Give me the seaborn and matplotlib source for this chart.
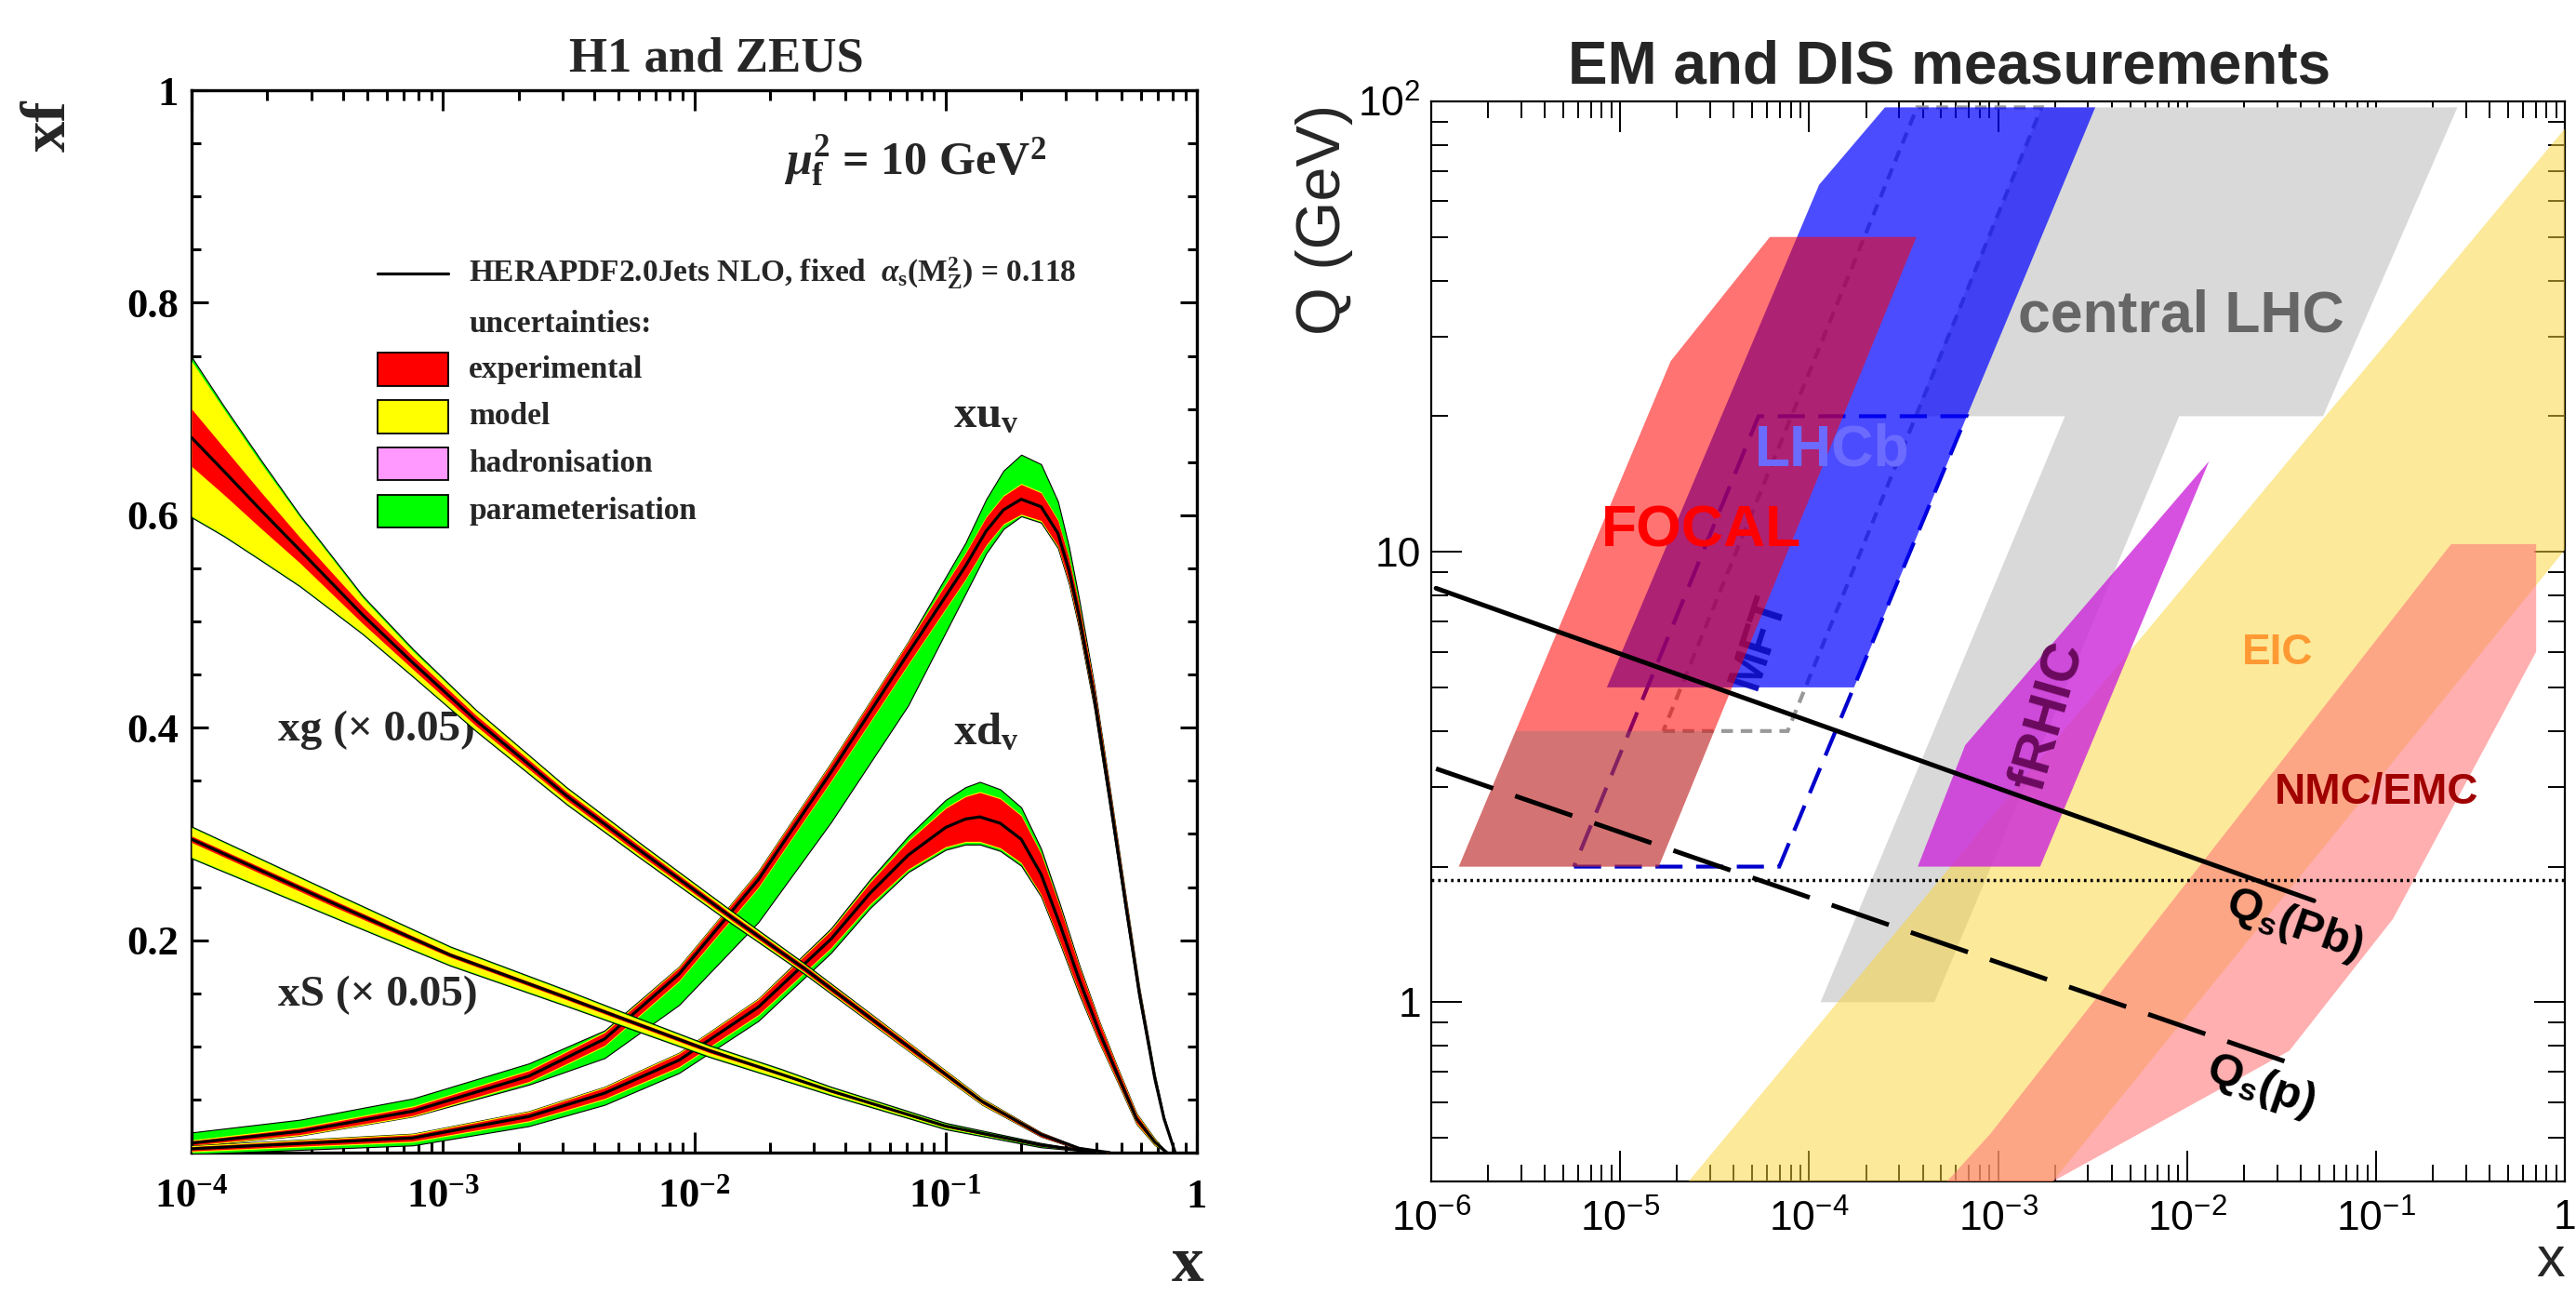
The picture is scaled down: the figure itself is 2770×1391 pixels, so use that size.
import numpy as np
import matplotlib
matplotlib.use("Agg")
import matplotlib.pyplot as plt
import matplotlib.ticker as mticker
from matplotlib.patches import Rectangle
import seaborn as sns

# ---------------- left panel: HERAPDF2.0Jets NLO, mu_f^2 = 10 GeV^2 ----------------
# xu_v : central value and cumulative uncertainty half-widths (exp, +model, total)
xuv_x = [1.0e-4, 2.7e-4, 7.6e-4, 2.2e-3, 4.4e-3, 8.7e-3, 1.8e-2, 3.5e-2, 7.1e-2, 0.12, 0.145,
         0.17, 0.20, 0.24, 0.28, 0.31, 0.34, 0.39, 0.45, 0.52, 0.59, 0.68, 0.74, 0.82]
xuv_c = [0.009, 0.020, 0.039, 0.072, 0.107, 0.168, 0.257, 0.358, 0.470, 0.552, 0.585,
         0.605, 0.615, 0.608, 0.583, 0.548, 0.505, 0.430, 0.335, 0.235, 0.150, 0.070, 0.032, 0.0]
xuv_exp = [0.002, 0.003, 0.004, 0.005, 0.006, 0.006, 0.007, 0.008, 0.010, 0.012, 0.013,
           0.013, 0.014, 0.013, 0.012, 0.011, 0.010, 0.009, 0.008, 0.007, 0.005, 0.003, 0.002, 0.0]
xuv_mod = [0.003, 0.004, 0.005, 0.006, 0.007, 0.007, 0.008, 0.009, 0.011, 0.013, 0.014,
           0.014, 0.015, 0.014, 0.013, 0.012, 0.011, 0.010, 0.009, 0.008, 0.006, 0.004, 0.002, 0.0]
xuv_tot_hi = [0.010, 0.011, 0.012, 0.012, 0.008, 0.007, 0.008, 0.009, 0.011, 0.022, 0.030,
              0.037, 0.042, 0.040, 0.030, 0.022, 0.016, 0.011, 0.009, 0.008, 0.006, 0.004, 0.002, 0.0]
xuv_tot_lo = [0.003, 0.004, 0.005, 0.008, 0.018, 0.029, 0.040, 0.047, 0.049, 0.026, 0.021,
              0.018, 0.016, 0.015, 0.014, 0.013, 0.012, 0.011, 0.010, 0.008, 0.006, 0.004, 0.002, 0.0]

# xd_v
xdv_x = [1.0e-4, 7.6e-4, 2.2e-3, 4.4e-3, 8.7e-3, 1.8e-2, 3.5e-2, 5.0e-2, 7.1e-2, 0.10,
         0.12, 0.137, 0.165, 0.20, 0.24, 0.285, 0.34, 0.41, 0.48, 0.575, 0.68, 0.76]
xdv_c = [0.0036, 0.0138, 0.034, 0.056, 0.087, 0.137, 0.201, 0.244, 0.280, 0.306,
         0.314, 0.316, 0.310, 0.295, 0.262, 0.215, 0.163, 0.113, 0.075, 0.032, 0.010, 0.0]
xdv_exp = [0.002, 0.003, 0.004, 0.005, 0.006, 0.007, 0.008, 0.010, 0.013, 0.018,
           0.021, 0.023, 0.023, 0.022, 0.019, 0.016, 0.012, 0.009, 0.006, 0.004, 0.002, 0.0]
xdv_mod = [0.003, 0.004, 0.005, 0.006, 0.007, 0.008, 0.009, 0.011, 0.014, 0.019,
           0.022, 0.024, 0.024, 0.023, 0.020, 0.017, 0.013, 0.010, 0.007, 0.005, 0.003, 0.0]
xdv_tot_hi = [0.003, 0.004, 0.005, 0.006, 0.007, 0.008, 0.010, 0.013, 0.018, 0.026,
              0.030, 0.033, 0.032, 0.030, 0.024, 0.019, 0.014, 0.010, 0.007, 0.005, 0.003, 0.0]
xdv_tot_lo = [0.005, 0.007, 0.009, 0.011, 0.012, 0.013, 0.013, 0.014, 0.016, 0.021,
              0.024, 0.026, 0.026, 0.025, 0.021, 0.018, 0.014, 0.010, 0.007, 0.005, 0.003, 0.0]

# xg (x 0.05)
xg_x = [1.0e-4, 1.35e-4, 1.9e-4, 2.7e-4, 4.8e-4, 7.6e-4, 1.35e-3, 3.1e-3, 6.2e-3, 1.4e-2,
        2.75e-2, 7.1e-2, 0.14, 0.24, 0.34, 0.45]
xg_c = [0.673, 0.641, 0.604, 0.567, 0.506, 0.461, 0.407, 0.336, 0.283, 0.222,
        0.173, 0.100, 0.048, 0.017, 0.004, 0.0]
xg_exp = [0.027, 0.022, 0.017, 0.012, 0.008, 0.006, 0.005, 0.004, 0.004, 0.003,
          0.003, 0.003, 0.002, 0.002, 0.001, 0.0]
xg_mod_hi = [0.072, 0.058, 0.044, 0.031, 0.016, 0.011, 0.009, 0.007, 0.006, 0.005,
             0.004, 0.004, 0.003, 0.002, 0.001, 0.0]
xg_mod_lo = [0.074, 0.060, 0.046, 0.033, 0.017, 0.012, 0.009, 0.007, 0.006, 0.005,
             0.004, 0.004, 0.003, 0.002, 0.001, 0.0]
xg_tot_hi = [0.076, 0.061, 0.047, 0.033, 0.018, 0.013, 0.010, 0.008, 0.007, 0.006,
             0.005, 0.004, 0.003, 0.002, 0.001, 0.0]
xg_tot_lo = [0.075, 0.061, 0.047, 0.034, 0.018, 0.013, 0.010, 0.008, 0.007, 0.006,
             0.005, 0.004, 0.003, 0.002, 0.001, 0.0]

# xS (x 0.05)
xs_x = [1.0e-4, 3.8e-4, 1.07e-3, 3.1e-3, 5.5e-3, 1.15e-2, 2.2e-2, 3.5e-2, 0.10, 0.24, 0.41]
xs_c = [0.295, 0.233, 0.186, 0.146, 0.124, 0.096, 0.074, 0.058, 0.025, 0.007, 0.0]
xs_exp = [0.003, 0.003, 0.002, 0.002, 0.002, 0.002, 0.001, 0.001, 0.001, 0.001, 0.0]
xs_mod_hi = [0.011, 0.009, 0.007, 0.006, 0.005, 0.004, 0.004, 0.003, 0.002, 0.001, 0.0]
xs_mod_lo = [0.017, 0.012, 0.009, 0.007, 0.006, 0.005, 0.004, 0.003, 0.002, 0.001, 0.0]
xs_tot_hi = [0.012, 0.010, 0.008, 0.007, 0.006, 0.005, 0.005, 0.004, 0.003, 0.002, 0.0]
xs_tot_lo = [0.018, 0.013, 0.010, 0.008, 0.007, 0.006, 0.005, 0.004, 0.003, 0.002, 0.0]

left_xticks = [1e-4, 1e-3, 1e-2, 1e-1, 1]
left_xlabels = [r"$\mathbf{10^{-4}}$", r"$\mathbf{10^{-3}}$", r"$\mathbf{10^{-2}}$",
                r"$\mathbf{10^{-1}}$", "1"]
left_yticks = [0, 0.2, 0.4, 0.6, 0.8, 1.0]
left_ylabels = ["", "0.2", "0.4", "0.6", "0.8", "1"]
legend_labels = ["experimental", "model", "hadronisation", "parameterisation"]
legend_colors = ["#ff0000", "#ffff00", "#ff99ff", "#00ff00"]

# ---------------- right panel: (x, Q) coverage of EM and DIS measurements ----------------
lhc_x = [1.7e-3, 0.27, 0.0525, 9.1e-3, 4.6e-4, 1.15e-4, 2.26e-3, 3.6e-4]
lhc_q = [97, 97, 20, 20, 1, 1, 20, 20]
alice_x = [1.69e-5, 7.7e-5, 1.7e-3, 3.73e-4]        # grey dotted outline
alice_q = [4, 4, 97, 97]
eic_x = [2.3e-5, 1.95e-3, 1.0, 1.0]
eic_q = [0.4, 0.4, 10.1, 87]
frhic_x = [3.76e-4, 1.67e-3, 1.31e-2, 6.7e-4]
frhic_q = [2.0, 2.0, 15.9, 3.72]
nmc_x = [5.37e-4, 9.1e-4, 0.25, 0.705, 0.705, 0.123, 0.0348, 1.95e-3]
nmc_q = [0.4, 0.51, 10.4, 10.4, 6.0, 1.53, 0.78, 0.4]
mft_x = [5.7e-6, 6.95e-5, 6.8e-4, 5.4e-5]            # blue dashed outline
mft_q = [2, 2, 20, 20]
lhcb_x = [8.5e-6, 1.73e-4, 3.27e-3, 2.52e-4, 1.13e-4]
lhcb_q = [5.0, 5.0, 97, 97, 65.3]
focal_x = [1.4e-6, 1.6e-5, 3.7e-4, 6.2e-5, 1.85e-5]
focal_q = [2, 2, 50, 50, 26.5]
focal_low_x = [1.4e-6, 1.6e-5, 3.14e-5, 2.8e-6]
focal_low_q = [2, 2, 4, 4]
qs_pb_x = [1.06e-6, 0.047]
qs_pb_q = [8.3, 1.68]
qs_p_x = [1.06e-6, 0.0366]
qs_p_q = [3.3, 0.728]
qcut_x = [1e-6, 1.0]
qcut_q = [1.87, 1.87]

right_xticks = [1e-6, 1e-5, 1e-4, 1e-3, 1e-2, 1e-1, 1]
right_xlabels = [r"$\mathsf{10^{-6}}$", r"$\mathsf{10^{-5}}$", r"$\mathsf{10^{-4}}$",
                 r"$\mathsf{10^{-3}}$", r"$\mathsf{10^{-2}}$", r"$\mathsf{10^{-1}}$", "1"]
right_yticks = [1, 10, 100]
right_ylabels = ["1", "10", r"$\mathsf{10^{2}}$"]

sns.set_theme(style="ticks", rc={"axes.edgecolor": "black", "xtick.color": "black",
                                 "ytick.color": "black", "axes.facecolor": "white"})
plt.rcParams["font.family"] = ["Liberation Serif", "DejaVu Serif"]
plt.rcParams["mathtext.fontset"] = "custom"
plt.rcParams["mathtext.rm"] = "Liberation Serif:bold"
plt.rcParams["mathtext.bf"] = "Liberation Serif:bold"
plt.rcParams["mathtext.it"] = "Liberation Serif:bold:italic"
plt.rcParams["mathtext.sf"] = "Liberation Sans"
plt.rcParams["mathtext.tt"] = "Liberation Sans:bold"

fig = plt.figure(figsize=(27.7, 13.91), dpi=100)
axl = fig.add_axes([0.07437, 0.10927, 0.39025, 0.82099])
axr = fig.add_axes([0.5556, 0.08699, 0.44007, 0.83465])

# ---------- left ----------
axl.set_xscale("log")
axl.set_xlim(1e-4, 1)
axl.set_ylim(0, 1)


def draw_pdf(ax, x, c, exp, mod_hi, mod_lo, tot_hi, tot_lo, z):
    x = np.asarray(x)
    c = np.asarray(c)
    ax.fill_between(x, c - np.asarray(tot_lo), c + np.asarray(tot_hi), color="#00ff00",
                    ec="black", lw=0.8, zorder=z)
    ax.fill_between(x, c - np.asarray(mod_lo), c + np.asarray(mod_hi), color="#ffff00",
                    lw=0, zorder=z + 0.1)
    ax.fill_between(x, c - np.asarray(exp), c + np.asarray(exp), color="#ff0000",
                    lw=0, zorder=z + 0.2)
    sns.lineplot(x=x, y=c, ax=ax, color="black", lw=2.3, zorder=z + 0.3,
                 sort=False, estimator=None)


draw_pdf(axl, xuv_x, xuv_c, xuv_exp, xuv_mod, xuv_mod, xuv_tot_hi, xuv_tot_lo, 2)
draw_pdf(axl, xdv_x, xdv_c, xdv_exp, xdv_mod, xdv_mod, xdv_tot_hi, xdv_tot_lo, 3)
draw_pdf(axl, xg_x, xg_c, xg_exp, xg_mod_hi, xg_mod_lo, xg_tot_hi, xg_tot_lo, 4)
draw_pdf(axl, xs_x, xs_c, xs_exp, xs_mod_hi, xs_mod_lo, xs_tot_hi, xs_tot_lo, 5)

axl.set_xticks(left_xticks)
axl.set_xticklabels(left_xlabels, fontsize=32, fontweight="bold")
axl.xaxis.set_minor_locator(mticker.LogLocator(base=10, subs=np.arange(2, 10), numticks=50))
axl.xaxis.set_minor_formatter(mticker.NullFormatter())
axl.set_yticks(left_yticks)
axl.set_yticklabels(left_ylabels, fontsize=32, fontweight="bold")
axl.yaxis.set_minor_locator(mticker.MultipleLocator(0.05))
axl.tick_params(which="both", direction="in", top=True, right=True, width=2.2)
axl.tick_params(axis="x", which="major", length=16, pad=20)
axl.tick_params(axis="x", which="minor", length=8)
axl.tick_params(axis="y", which="major", length=13, pad=10)
axl.tick_params(axis="y", which="minor", length=7)
for sp in axl.spines.values():
    sp.set_linewidth(2.4)
axl.set_xlabel("")
axl.set_ylabel("")

# legend block
axl.plot([0.185, 0.255], [0.8275, 0.8275], transform=axl.transAxes, color="black", lw=2.3)
axl.text(0.2757, 0.8275, r"HERAPDF2.0Jets NLO, fixed  $\alpha_{\mathrm{s}}(\mathrm{M}_{\mathrm{Z}}^{2})$ = 0.118",
         transform=axl.transAxes, fontsize=24, fontweight="bold", va="center")
axl.text(0.2757, 0.780, "uncertainties:", transform=axl.transAxes, fontsize=24,
         fontweight="bold", va="center")
for i, (lab, col) in enumerate(zip(legend_labels, legend_colors)):
    yc = 0.7373 - i * 0.0445
    axl.add_patch(Rectangle((0.185, yc - 0.0155), 0.0703, 0.031, transform=axl.transAxes,
                            fc=col, ec="black", lw=1.3, zorder=10))
    axl.text(0.2757, yc, lab, transform=axl.transAxes, fontsize=24, fontweight="bold",
             va="center")

axl.text(0.72, 0.920, r"$\mu_{\mathrm{f}}^{2}$ = 10 GeV$^{2}$", transform=axl.transAxes,
         fontsize=36, fontweight="bold", ha="center", va="baseline")
axl.text(0.790, 0.6935, r"xu$_{\mathrm{v}}$", transform=axl.transAxes, fontsize=35,
         fontweight="bold", ha="center", va="center")
axl.text(0.790, 0.395, r"xd$_{\mathrm{v}}$", transform=axl.transAxes, fontsize=35,
         fontweight="bold", ha="center", va="center")
axl.text(0.086, 0.3975, "xg (\u00d7 0.05)", transform=axl.transAxes, fontsize=34,
         fontweight="bold", ha="left", va="center")
axl.text(0.086, 0.148, "xS (\u00d7 0.05)", transform=axl.transAxes, fontsize=34,
         fontweight="bold", ha="left", va="center")

fig.text(0.278, 0.945, "H1 and ZEUS", ha="center", va="baseline", fontsize=38,
         fontweight="bold")
fig.text(0.0191, 0.923, "xf", rotation=90, ha="center", va="top", fontsize=48,
         fontweight="bold")
fig.text(0.4675, 0.010, "x", ha="right", va="baseline", fontsize=50, fontweight="bold")

# ---------- right ----------
axr.set_xscale("log")
axr.set_yscale("log")
axr.set_xlim(1e-6, 1)
axr.set_ylim(0.4, 100)

axr.fill(lhc_x, lhc_q, color="#d9d9d9", lw=0, zorder=1)
axr.fill(alice_x, alice_q, fill=False, ec="#999999", lw=3, ls=(0, (3, 2)), zorder=2)
axr.fill(eic_x, eic_q, color=(0.98, 0.83, 0.21), alpha=0.5, lw=0, zorder=3)
axr.fill(frhic_x, frhic_q, color=(0.8, 0.15, 0.85), alpha=0.8, lw=0, zorder=4)
axr.fill(nmc_x, nmc_q, color=(1.0, 0.48, 0.48), alpha=0.6, lw=0, zorder=5)
axr.fill(mft_x, mft_q, fill=False, ec="#0000cc", lw=3, ls=(0, (7, 3.5)), zorder=6)
axr.fill(lhcb_x, lhcb_q, color=(0, 0, 1), alpha=0.7, lw=0, zorder=7)
axr.text(5.4e-5, 6.3, "MFT", rotation=72, ha="center", va="center", fontsize=36,
         fontweight="bold", family="Liberation Sans", color="#1010c0", zorder=7.5)
axr.fill(focal_x, focal_q, color=(1, 0, 0), alpha=0.55, lw=0, zorder=8)
axr.fill(focal_low_x, focal_low_q, color=(0.45, 0.45, 0.45), alpha=0.3, lw=0, zorder=9)

sns.lineplot(x=qs_pb_x, y=qs_pb_q, ax=axr, color="black", lw=3.6, zorder=11,
             sort=False, estimator=None)
axr.plot(qs_p_x, qs_p_q, color="black", lw=3.6, ls=(0, (13, 5)), zorder=11)
axr.plot(qcut_x, qcut_q, color="black", lw=2.5, ls=(0, (0.8, 1.2)), zorder=11)

sans = "Liberation Sans"
axr.text(2.7e-5, 11.1, "FOCAL", ha="center", va="center", fontsize=45, fontweight="bold",
         family=sans, color="#ff0000", zorder=12)
axr.text(1.32e-4, 16.8, "LHCb", ha="center", va="center", fontsize=45, fontweight="bold",
         family=sans, color="#6b6bff", zorder=12)
axr.text(9.3e-3, 33.3, "central LHC", ha="center", va="center", fontsize=45,
         fontweight="bold", family=sans, color="#666666", zorder=12)
axr.text(1.85e-3, 4.32, "fRHIC", rotation=74, ha="center", va="center", fontsize=42,
         fontweight="bold", family=sans, color="#6a0a5e", zorder=12)
axr.text(0.0302, 5.96, "EIC", ha="center", va="center", fontsize=33, fontweight="bold",
         family=sans, color="#ff9933", zorder=12)
axr.text(0.1005, 2.93, "NMC/EMC", ha="center", va="center", fontsize=33,
         fontweight="bold", family=sans, color="#a00000", zorder=12)
axr.text(0.0369, 1.48, r"$\mathtt{Q_{s}(Pb)}$", rotation=-19, ha="center", va="center",
         fontsize=35, color="black", zorder=12)
axr.text(0.0244, 0.65, r"$\mathtt{Q_{s}(p)}$", rotation=-19, ha="center", va="center",
         fontsize=35, color="black", zorder=12)

axr.set_xticks(right_xticks)
axr.set_xticklabels(right_xlabels, fontsize=32, fontfamily=sans)
axr.xaxis.set_minor_locator(mticker.LogLocator(base=10, subs=np.arange(2, 10), numticks=100))
axr.xaxis.set_minor_formatter(mticker.NullFormatter())
axr.set_yticks(right_yticks)
axr.set_yticklabels(right_ylabels, fontsize=32, fontfamily=sans)
axr.yaxis.set_minor_locator(mticker.LogLocator(base=10, subs=np.arange(2, 10), numticks=100))
axr.yaxis.set_minor_formatter(mticker.NullFormatter())
axr.tick_params(which="both", direction="in", top=True, right=True, width=1.4)
axr.tick_params(which="major", length=24)
axr.tick_params(which="minor", length=13)
axr.tick_params(axis="x", which="major", pad=14)
axr.tick_params(axis="y", which="major", pad=8)
for sp in axr.spines.values():
    sp.set_linewidth(1.6)
axr.set_xlabel("")
axr.set_ylabel("")

fig.text(0.7567, 0.936, "EM and DIS measurements", ha="center", va="baseline",
         fontsize=46, fontweight="bold", family=sans)
fig.text(0.514, 0.9195, "Q (GeV)", rotation=90, ha="center", va="top", fontsize=48,
         family=sans)
fig.text(0.9957, 0.004, "x", ha="right", va="bottom", fontsize=44, family=sans)

fig.savefig("out.png", dpi=100)
